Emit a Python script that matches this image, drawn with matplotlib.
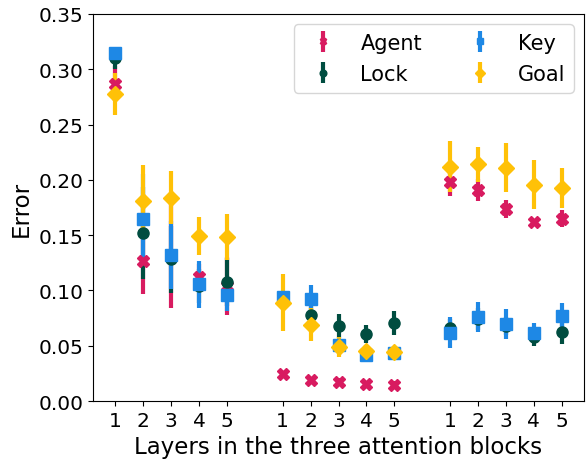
import matplotlib
matplotlib.use("Agg")
import matplotlib.pyplot as plt
import numpy as np

layers = [1, 2, 3, 4, 5]
series_names = ["Agent", "Lock", "Key", "Goal"]

agent_mean = [0.287, 0.127, 0.131, 0.112, 0.104,
              0.024, 0.019, 0.0175, 0.0155, 0.0148,
              0.198, 0.191, 0.1736, 0.162, 0.165]
agent_err = [0.016, 0.030, 0.047, 0.012, 0.026,
             0.003, 0.003, 0.003, 0.003, 0.003,
             0.013, 0.010, 0.008, 0.003, 0.008]

lock_mean = [0.310, 0.152, 0.128, 0.104, 0.1077,
             0.093, 0.078, 0.0677, 0.0608, 0.0708,
             0.066, 0.074, 0.068, 0.058, 0.0626]
lock_err = [0.010, 0.042, 0.030, 0.015, 0.022,
            0.005, 0.010, 0.011, 0.008, 0.011,
            0.008, 0.010, 0.008, 0.008, 0.011]

key_mean = [0.315, 0.165, 0.132, 0.1055, 0.096,
            0.094, 0.092, 0.051, 0.042, 0.0436,
            0.0617, 0.076, 0.070, 0.0617, 0.0768]
key_err = [0.004, 0.040, 0.031, 0.021, 0.015,
           0.004, 0.013, 0.004, 0.007, 0.004,
           0.014, 0.0135, 0.0135, 0.0085, 0.012]

goal_mean = [0.278, 0.181, 0.184, 0.149, 0.1485,
             0.089, 0.069, 0.049, 0.0457, 0.0444,
             0.212, 0.214, 0.211, 0.1957, 0.193]
goal_err = [0.019, 0.032, 0.024, 0.017, 0.021,
            0.0255, 0.015, 0.009, 0.005, 0.004,
            0.023, 0.016, 0.022, 0.022, 0.018]

colors = {"Agent": "#D81B60", "Lock": "#004D40", "Key": "#1E88E5", "Goal": "#FFC107"}
markers = {"Agent": "X", "Lock": "o", "Key": "s", "Goal": "D"}
data = {"Agent": (agent_mean, agent_err), "Lock": (lock_mean, lock_err),
        "Key": (key_mean, key_err), "Goal": (goal_mean, goal_err)}

n_blocks = 3
positions = np.concatenate([np.arange(5) + 6 * b for b in range(n_blocks)])
tick_labels = [str(l) for l in layers] * n_blocks

fig = plt.figure(figsize=(5.86, 4.6), dpi=100)
ax = fig.add_axes([0.1587, 0.126, 0.838, 0.8414])

for name in series_names:
    m, e = data[name]
    ax.errorbar(positions, m, yerr=e, fmt=markers[name], color=colors[name],
                markersize=8, elinewidth=3, capsize=0, linestyle="none", label=name)

ax.set_xticks(positions)
ax.set_xticklabels(tick_labels, fontsize=14.5)
ax.set_xlim(-0.8, 16.8)
ax.set_ylim(0, 0.35)
yt = np.arange(0, 0.351, 0.05)
ax.set_yticks(yt)
ax.set_yticklabels([f"{v:.2f}" for v in yt], fontsize=14.5)
ax.set_xlabel("Layers in the three attention blocks", fontsize=16.5)
ax.set_ylabel("Error", fontsize=16.5)
ax.legend(ncol=2, loc="upper right", fontsize=15, markerscale=0.6,
          labelspacing=0.55, handletextpad=0.8, columnspacing=1.8)

fig.savefig("out.png", dpi=100)
